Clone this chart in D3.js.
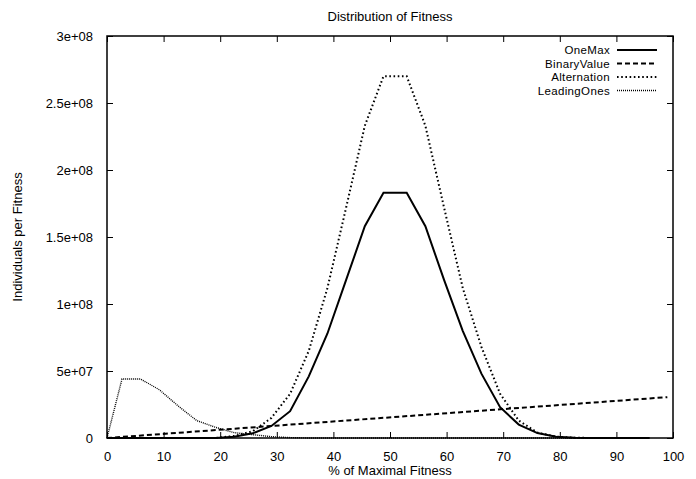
<!DOCTYPE html>
<html><head><meta charset="utf-8">
<script src="https://cdn.jsdelivr.net/npm/d3@7"></script>
<style>
html,body{margin:0;padding:0;background:#fff;}
text{font-family:"Liberation Sans",Arial,sans-serif;font-size:13px;fill:#000;}
</style></head>
<body><svg id="c" width="696" height="479"></svg>
<script>
// ---- data (x in % of maximal fitness, y in individuals) ----
const seriesNames = ["OneMax", "BinaryValue", "Alternation", "LeadingOnes"];
const gridX = [0, 2.65, 5.95, 9.25, 12.55, 15.85, 19.15, 22.45, 25.75, 29.05, 32.35, 35.65, 38.95, 42.25, 45.55, 48.85,
               52.95, 56.25, 59.55, 62.85, 66.15, 69.45, 72.75, 76.05, 79.35, 82.65, 85.95, 89.25, 92.55, 95.85];
const oneMax = [0, 0, 0, 0, 0, 0, 0, 1e6, 3.5e6, 9e6, 20e6, 46e6, 78e6, 118e6, 158e6, 183e6,
                183e6, 158e6, 118e6, 80e6, 48e6, 23e6, 10e6, 3.7e6, 1e6, 0.2e6, 0, 0, 0, 0];
const alternation = [0, 0, 0, 0, 0, 0, 0, 1.5e6, 5e6, 15e6, 33e6, 65e6, 112e6, 172e6, 233e6, 270e6,
                     270e6, 233e6, 172e6, 112e6, 68e6, 33e6, 13e6, 4e6, 1e6, 0.2e6, 0, 0, 0, 0];
const leadingOnes = [0, 44e6, 44e6, 36e6, 24e6, 13e6, 8e6, 4e6, 2.5e6, 1e6, 0.3e6, 0, 0, 0, 0, 0,
                     0, 0, 0, 0, 0, 0, 0, 0, 0, 0, 0, 0, 0, 0];
const binaryX = [0, 99];
const binaryValue = [0, 30.5e6];
const xTicks = [0, 10, 20, 30, 40, 50, 60, 70, 80, 90, 100];
const yTicks = [0, 5e7, 1e8, 1.5e8, 2e8, 2.5e8, 3e8];
const yTickLabels = ["0", "5e+07", "1e+08", "1.5e+08", "2e+08", "2.5e+08", "3e+08"];

const svg = d3.select("#c");
const L = 107, R = 673, T = 36, B = 438;
const x = d3.scaleLinear().domain([0, 100]).range([L, R]);
const y = d3.scaleLinear().domain([0, 3e8]).range([B, T]);
const FONT = '"Liberation Sans",Arial,sans-serif';

// title & axis labels
svg.append("text").attr("x", (L + R) / 2).attr("y", 21).attr("text-anchor", "middle").text("Distribution of Fitness");
svg.append("text").attr("x", (L + R) / 2).attr("y", 475).attr("text-anchor", "middle").text("% of Maximal Fitness");
svg.append("text").attr("transform", `translate(22,${(T + B) / 2}) rotate(-90)`).attr("text-anchor", "middle").text("Individuals per Fitness");

// axes (ticks inward, mirrored)
const tl = 6;
const gx = svg.append("g").attr("transform", `translate(0,${B})`)
  .call(d3.axisBottom(x).tickValues(xTicks).tickSize(-tl).tickPadding(tl + 8).tickFormat(d3.format("d")));
const gxt = svg.append("g").attr("transform", `translate(0,${T})`)
  .call(d3.axisTop(x).tickValues(xTicks).tickSize(-tl).tickFormat(""));
const gy = svg.append("g").attr("transform", `translate(${L},0)`)
  .call(d3.axisLeft(y).tickValues(yTicks).tickSize(-tl).tickPadding(tl + 8).tickFormat((d, i) => yTickLabels[i]));
const gyr = svg.append("g").attr("transform", `translate(${R},0)`)
  .call(d3.axisRight(y).tickValues(yTicks).tickSize(-tl).tickFormat(""));
[gx, gxt, gy, gyr].forEach(g => {
  g.select(".domain").remove();
  g.selectAll("line").attr("stroke", "#000").attr("stroke-width", 1);
  g.selectAll("text").style("font-family", FONT).style("font-size", "13px").attr("fill", "#000");
});
svg.append("rect").attr("x", L).attr("y", T).attr("width", R - L).attr("height", B - T)
  .attr("fill", "none").attr("stroke", "#000").attr("stroke-width", 1.5);

// series
const styles = {
  "OneMax": {w: 2, dash: null},
  "BinaryValue": {w: 2, dash: "5,3"},
  "Alternation": {w: 2, dash: "1.6,2.6"},
  "LeadingOnes": {w: 1.4, dash: "1,1"}
};
const data = {
  "OneMax": gridX.map((d, i) => [d, oneMax[i]]),
  "BinaryValue": binaryX.map((d, i) => [d, binaryValue[i]]),
  "Alternation": gridX.map((d, i) => [d, alternation[i]]),
  "LeadingOnes": gridX.map((d, i) => [d, leadingOnes[i]])
};
const line = d3.line().x(d => x(d[0])).y(d => y(d[1]));
const plot = svg.append("g");
["LeadingOnes", "BinaryValue", "Alternation", "OneMax"].forEach(n => {
  plot.append("path").attr("d", line(data[n])).attr("fill", "none").attr("stroke", "#000")
    .attr("stroke-width", styles[n].w).attr("stroke-dasharray", styles[n].dash)
    .attr("stroke-linejoin", "miter");
});

// legend
const lg = svg.append("g");
seriesNames.forEach((n, i) => {
  const yy = 50 + i * 13.5;
  lg.append("text").attr("x", 610).attr("y", yy + 4).attr("text-anchor", "end")
    .style("font-size", "11.5px").style("letter-spacing", "0.35px").text(n);
  lg.append("line").attr("x1", 617).attr("x2", 657).attr("y1", yy).attr("y2", yy)
    .attr("stroke", "#000").attr("stroke-width", styles[n].w).attr("stroke-dasharray", styles[n].dash);
});
</script></body></html>
